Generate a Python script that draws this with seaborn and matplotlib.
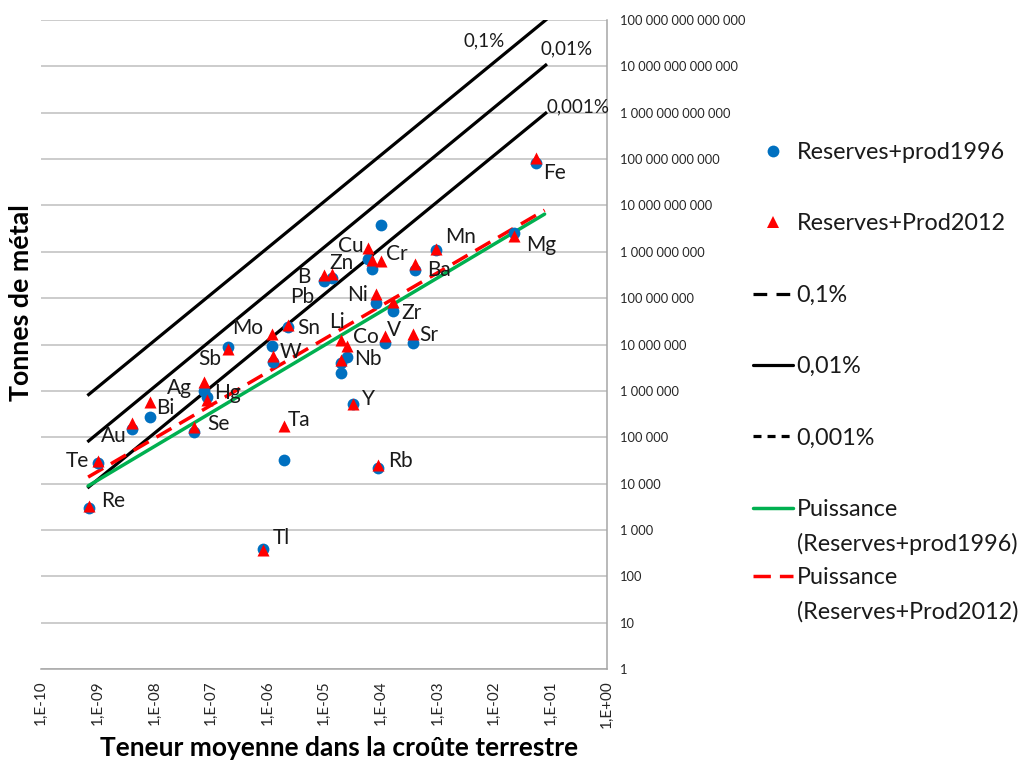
import numpy as np
import pandas as pd
import matplotlib
matplotlib.use("Agg")
import matplotlib.pyplot as plt
from matplotlib.lines import Line2D
from matplotlib.ticker import FixedLocator, FuncFormatter, NullLocator
import seaborn as sns

# ---------------- data ----------------
elements = ["Re", "Te", "Au", "Bi", "Se", "Ag", "Hg", "Sb", "Tl", "Mo", "W", "Ta", "Sn",
            "B", "Pb", "Li", "Nb", "Co", "Y", "Cu", "Zn", "Ni", "Rb", "Cr", "V", "Zr",
            "Sr", "Ba", "Mn", "Mg", "Fe"]
teneur = [7e-10, 1e-9, 4e-9, 8.5e-9, 5e-8, 7.5e-8, 8.5e-8, 2e-7, 8.5e-7, 1.2e-6, 1.25e-6,
          2e-6, 2.3e-6, 1e-5, 1.4e-5, 2e-5, 2e-5, 2.5e-5, 3.3e-5, 6e-5, 7e-5, 8.4e-5,
          9e-5, 1e-4, 1.2e-4, 1.65e-4, 3.7e-4, 4.1e-4, 9.5e-4, 2.3e-2, 5.6e-2]
reserves_prod1996 = [3.0e3, 2.8e4, 1.5e5, 2.7e5, 1.3e5, 1.0e6, 7.5e5, 8.9e6, 390, 9.3e6,
                     4.2e6, 3.2e4, 2.4e7, 2.3e8, 2.7e8, 4.0e6, 2.4e6, 5.4e6, 5.2e5, 7.0e8,
                     4.3e8, 7.8e7, 2.2e4, 3.8e9, 1.07e7, 5.3e7, 1.1e7, 4.1e8, 1.1e9,
                     2.5e9, 8.2e10]
reserves_prod2012 = [3.3e3, 3.1e4, 2.0e5, 5.8e5, 1.65e5, 1.55e6, 6.5e5, 8.0e6, 370, 1.7e7,
                     5.6e6, 1.75e5, 2.6e7, 3.2e8, 3.3e8, 1.25e7, 4.6e6, 9.3e6, 5.2e5, 1.2e9,
                     6.6e8, 1.2e8, 2.5e4, 6.3e8, 1.5e7, 8.3e7, 1.7e7, 5.4e8, 1.15e9,
                     2.2e9, 1.05e11]

# reference lines (constant grade) end points
ref_x = [6.6e-10, 8.7e-2]
ref_01_y = [7.9e5, 1.05e14]
ref_001_y = [7.9e4, 1.12e13]
ref_0001_y = [8.0e3, 1.03e12]

# power trend lines end points
trend_x = [6.8e-10, 7.9e-2]
trend_1996_y = [8.9e3, 6.5e9]
trend_2012_y = [1.38e4, 7.9e9]

x_ticks = [10.0 ** k for k in range(-10, 1)]
y_ticks = [10.0 ** k for k in range(0, 15)]

# label offsets (pixels) relative to the 2012 point
label_offsets = {
    "Re": (24, 5), "Te": (-20, 0), "Au": (-18, -13), "Bi": (15, -6), "Se": (25, 3),
    "Ag": (-24, -6), "Hg": (21, 7), "Sb": (-18, -10), "Tl": (18, 12), "Mo": (-24, 6),
    "W": (18, 4), "Ta": (15, 6), "Sn": (21, -3), "B": (-20, -2), "Pb": (-30, -23),
    "Li": (-4, 18), "Nb": (27, 1), "Co": (19, 9), "Y": (15, 5), "Cu": (-17, 2),
    "Zn": (-30, -3), "Ni": (-19, -1), "Rb": (22, 4), "Cr": (16, 7), "V": (9, 6),
    "Zr": (19, -11), "Sr": (16, -1), "Ba": (24, -6), "Mn": (25, 12), "Mg": (27, -9),
    "Fe": (18, -15),
}

df = pd.DataFrame({"element": elements, "teneur": teneur,
                   "r1996": reserves_prod1996, "r2012": reserves_prod2012})

# ---------------- style ----------------
sns.set_style("white")
plt.rcParams["font.family"] = ["Lato", "DejaVu Sans"]

BLUE = "#0070C0"
RED = "#FF0000"
GREEN = "#00B050"
GRID = "#BFBFBF"
AXIS = "#A6A6A6"
TXT = "#1A1A1A"

fig = plt.figure(figsize=(10.21, 7.62), dpi=100)
ax = fig.add_axes([41 / 1021, 1 - 669 / 762, 566 / 1021, 649 / 762])
ax.set_xscale("log")
ax.set_yscale("log")

# reference lines
for ys in (ref_01_y, ref_001_y, ref_0001_y):
    ax.plot(ref_x, ys, color="black", lw=2.3, zorder=2, solid_capstyle="butt")

# trend lines
ax.plot(trend_x, trend_1996_y, color=GREEN, lw=2.5, zorder=2)
ax.plot(trend_x, trend_2012_y, color=RED, lw=2.5, dashes=(5, 2.6), zorder=2)

# points
sns.scatterplot(data=df, x="teneur", y="r1996", marker="o", color=BLUE, s=72,
                linewidth=0, ax=ax, zorder=3, legend=False)
sns.scatterplot(data=df, x="teneur", y="r2012", marker="^", color=RED, s=75,
                linewidth=0, ax=ax, zorder=4, legend=False)

# element labels
for el, xv, yv in zip(elements, teneur, reserves_prod2012):
    dx, dy = label_offsets[el]
    ax.annotate(el, (xv, yv), xytext=(dx, dy), textcoords="offset pixels",
                ha="center", va="center", fontsize=15, color=TXT, zorder=5,
                annotation_clip=False)

# percent labels
ax.annotate("0,1%", (ref_x[1], ref_01_y[1]), xytext=(-63, -22), textcoords="offset pixels",
            ha="center", va="center", fontsize=13.5, color=TXT, annotation_clip=False)
ax.annotate("0,01%", (ref_x[1], ref_001_y[1]), xytext=(20, 15), textcoords="offset pixels",
            ha="center", va="center", fontsize=13.5, color=TXT, annotation_clip=False)
ax.annotate("0,001%", (ref_x[1], ref_0001_y[1]), xytext=(31, 5), textcoords="offset pixels",
            ha="center", va="center", fontsize=13.5, color=TXT, annotation_clip=False)

# axes
ax.set_xlim(1e-10, 1)
ax.set_ylim(1, 1e14)
ax.xaxis.set_major_locator(FixedLocator(x_ticks))
ax.xaxis.set_minor_locator(NullLocator())
ax.yaxis.set_major_locator(FixedLocator(y_ticks))
ax.yaxis.set_minor_locator(NullLocator())
ax.xaxis.set_major_formatter(FuncFormatter(
    lambda v, p: "1,E{:+03d}".format(int(round(np.log10(v))))))
ax.yaxis.set_major_formatter(FuncFormatter(
    lambda v, p: "{:,}".format(int(round(v))).replace(",", " ")))
ax.yaxis.tick_right()
ax.tick_params(axis="y", length=0, pad=9, labelsize=9.3, labelcolor="#262626")
ax.tick_params(axis="x", length=5, width=1, color=AXIS, pad=3, labelsize=11,
               labelrotation=90, labelcolor="#262626")

ax.yaxis.grid(True, color=GRID, lw=1.1)
ax.xaxis.grid(False)
ax.set_axisbelow(True)
for s in ["top", "left"]:
    ax.spines[s].set_visible(False)
for s in ["bottom", "right"]:
    ax.spines[s].set_color(AXIS)
    ax.spines[s].set_linewidth(1.1)

ax.set_ylabel("Tonnes de métal", fontsize=19.3, fontweight="bold", color="black")
ax.yaxis.set_label_position("left")
ax.yaxis.set_label_coords(-0.014, 0.565)
ax.set_xlabel("Teneur moyenne dans la croûte terrestre", fontsize=19,
              fontweight="bold", color="black")
ax.xaxis.set_label_coords(0.527, -0.104)

# legends
h1 = Line2D([], [], marker="o", color=BLUE, linestyle="none", markersize=8.5, markeredgewidth=0)
h2 = Line2D([], [], marker="^", color=RED, linestyle="none", markersize=8.5, markeredgewidth=0)
h3 = Line2D([], [], color="black", lw=2.3, dashes=(4.3, 2.9))
h4 = Line2D([], [], color="black", lw=2.3)
h5 = Line2D([], [], color="black", lw=2.3, dashes=(2.5, 1.9))
LFS = 16.8
leg1 = fig.legend([h1, h2, h3, h4, h5],
                  ["Reserves+prod1996", "Reserves+Prod2012", "0,1%", "0,01%", "0,001%"],
                  loc="upper left", bbox_to_anchor=(753 / 1021, 1 - 142 / 762),
                  frameon=False, fontsize=LFS, handlelength=1.7, handletextpad=0.17,
                  labelspacing=2.16, borderpad=0, borderaxespad=0)
g = Line2D([], [], color=GREEN, lw=2.5)
r = Line2D([], [], color=RED, lw=2.5, dashes=(5, 2.6))
blank = Line2D([], [], linestyle="none")
leg2 = fig.legend([g, blank, r, blank],
                  ["Puissance", "(Reserves+prod1996)", "Puissance", "(Reserves+Prod2012)"],
                  loc="upper left", bbox_to_anchor=(753 / 1021, 1 - 499 / 762),
                  frameon=False, fontsize=LFS, handlelength=1.7, handletextpad=0.17,
                  labelspacing=0.54, borderpad=0, borderaxespad=0)
for lg in (leg1, leg2):
    for t in lg.get_texts():
        t.set_color(TXT)

fig.savefig("out.png", dpi=100)
